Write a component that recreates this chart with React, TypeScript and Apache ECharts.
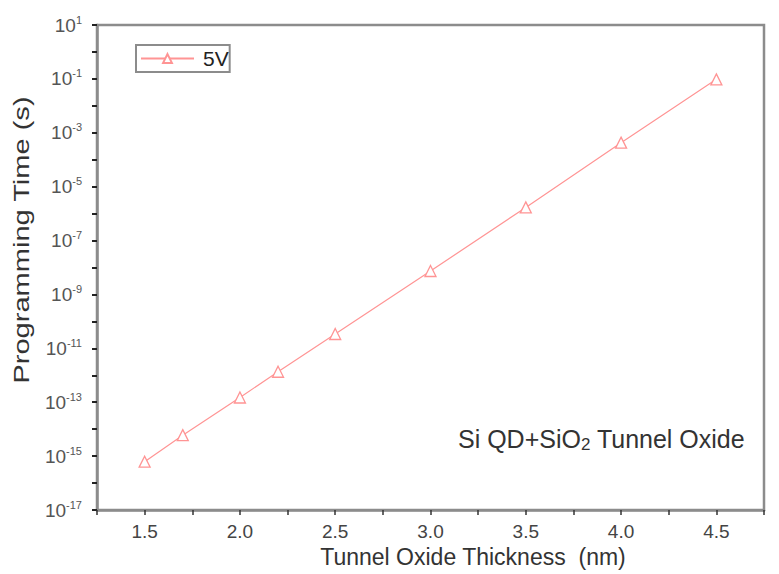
import React, { useEffect, useRef } from "react";
import * as echarts from "echarts";

const thickness = [1.5, 1.7, 2.0, 2.2, 2.5, 3.0, 3.5, 4.0, 4.5];
const progTime = [6.2e-16, 6.0e-15, 1.5e-13, 1.35e-12, 3.4e-11, 7.4e-9, 1.7e-6, 4.3e-4, 9.6e-2];
const seriesName = "5V";
const xTicks = [1.5, 2.0, 2.5, 3.0, 3.5, 4.0, 4.5];
const yExponents = [1, -1, -3, -5, -7, -9, -11, -13, -15, -17];
const xTitle = "Tunnel Oxide Thickness  (nm)";
const yTitle = "Programming Time (s)";

const LINE = "#ff9494";
const AXIS = "#8c8c8c";
const FONT = "Liberation Sans, Arial, sans-serif";

export default function App() {
  const ref = useRef<HTMLDivElement>(null);
  useEffect(() => {
    if (!ref.current) return;
    const chart = echarts.init(ref.current, null, { renderer: "svg" });
    const data = thickness.map((x, i) => [x, Math.log10(progTime[i])]);
    chart.setOption({
      animation: false,
      backgroundColor: "#fff",
      textStyle: { fontFamily: FONT },
      grid: {
        left: 97,
        top: 25,
        right: 15,
        bottom: 64,
        show: true,
        borderColor: AXIS,
        borderWidth: 2.5,
      },
      legend: {
        left: 136,
        top: 45,
        orient: "vertical",
        borderColor: AXIS,
        borderWidth: 2,
        padding: [3, 1, 3, 4],
        itemWidth: 53,
        itemHeight: 11,
        itemGap: 0,
        textStyle: { fontSize: 21, color: "#222", fontFamily: FONT, padding: [0, 0, 0, 4] },
        data: [seriesName],
      },
      xAxis: {
        type: "value",
        min: 1.25,
        max: 4.75,
        interval: 0.25,
        axisLine: { onZero: false, lineStyle: { color: AXIS, width: 2.5 } },
        axisTick: {
          show: true,
          length: 5,
          lineStyle: { color: "#333", width: 1.5 },
        },
        axisLabel: {
          fontSize: 19,
          lineHeight: 19,
          color: "#444",
          margin: 12,
          formatter: (v: number) => {
            const hit = xTicks.find((t) => Math.abs(t - v) < 1e-6);
            return hit !== undefined ? hit.toFixed(1) : "";
          },
        },
        splitLine: { show: false },
      },
      yAxis: {
        type: "value",
        min: -17,
        max: 1,
        interval: 1,
        axisLine: { onZero: false, lineStyle: { color: AXIS, width: 2.5 } },
        axisTick: { show: true, length: 5, lineStyle: { color: "#222", width: 2 } },
        axisLabel: {
          margin: 15,
          color: "#555",
          formatter: (v: number) => {
            const e = Math.round(v);
            if (!yExponents.includes(e)) return "";
            return "{b|10}{s|" + e + "}";
          },
          rich: {
            b: { fontSize: 19, color: "#555", fontFamily: FONT },
            s: { fontSize: 11, color: "#555", fontFamily: FONT, padding: [0, 0, 11, 0] },
          },
        },
        splitLine: { show: false },
      },
      series: [
        {
          name: seriesName,
          type: "line",
          data,
          symbol: "triangle",
          symbolSize: 11,
          itemStyle: { color: "#fff", borderColor: LINE, borderWidth: 1.3 },
          lineStyle: { color: LINE, width: 1.2 },
        },
      ],
      graphic: [
        {
          type: "text",
          x: 473,
          y: 557,
          style: {
            text: xTitle,
            fontSize: 23,
            fill: "#333",
            fontFamily: FONT,
            align: "center",
            verticalAlign: "middle",
          },
        },
        {
          type: "text",
          x: 21,
          y: 240,
          rotation: Math.PI / 2,
          scaleX: 1.32,
          style: {
            text: yTitle,
            fontSize: 22,
            fill: "#333",
            fontFamily: FONT,
            align: "center",
            verticalAlign: "middle",
          },
        },
        {
          type: "text",
          left: 458,
          top: 426,
          style: {
            text: "{a|Si QD+SiO}{sub|2}{a| Tunnel Oxide}",
            rich: {
              a: { fontSize: 25, fill: "#333", fontFamily: FONT },
              sub: { fontSize: 17, fill: "#333", fontFamily: FONT, padding: [12, 0, 0, 0] },
            },
          },
        },
      ],
    });
    return () => chart.dispose();
  }, []);
  return (
    <div
      ref={ref}
      style={{ position: "fixed", left: 0, top: 0, width: 779, height: 574 }}
    />
  );
}
